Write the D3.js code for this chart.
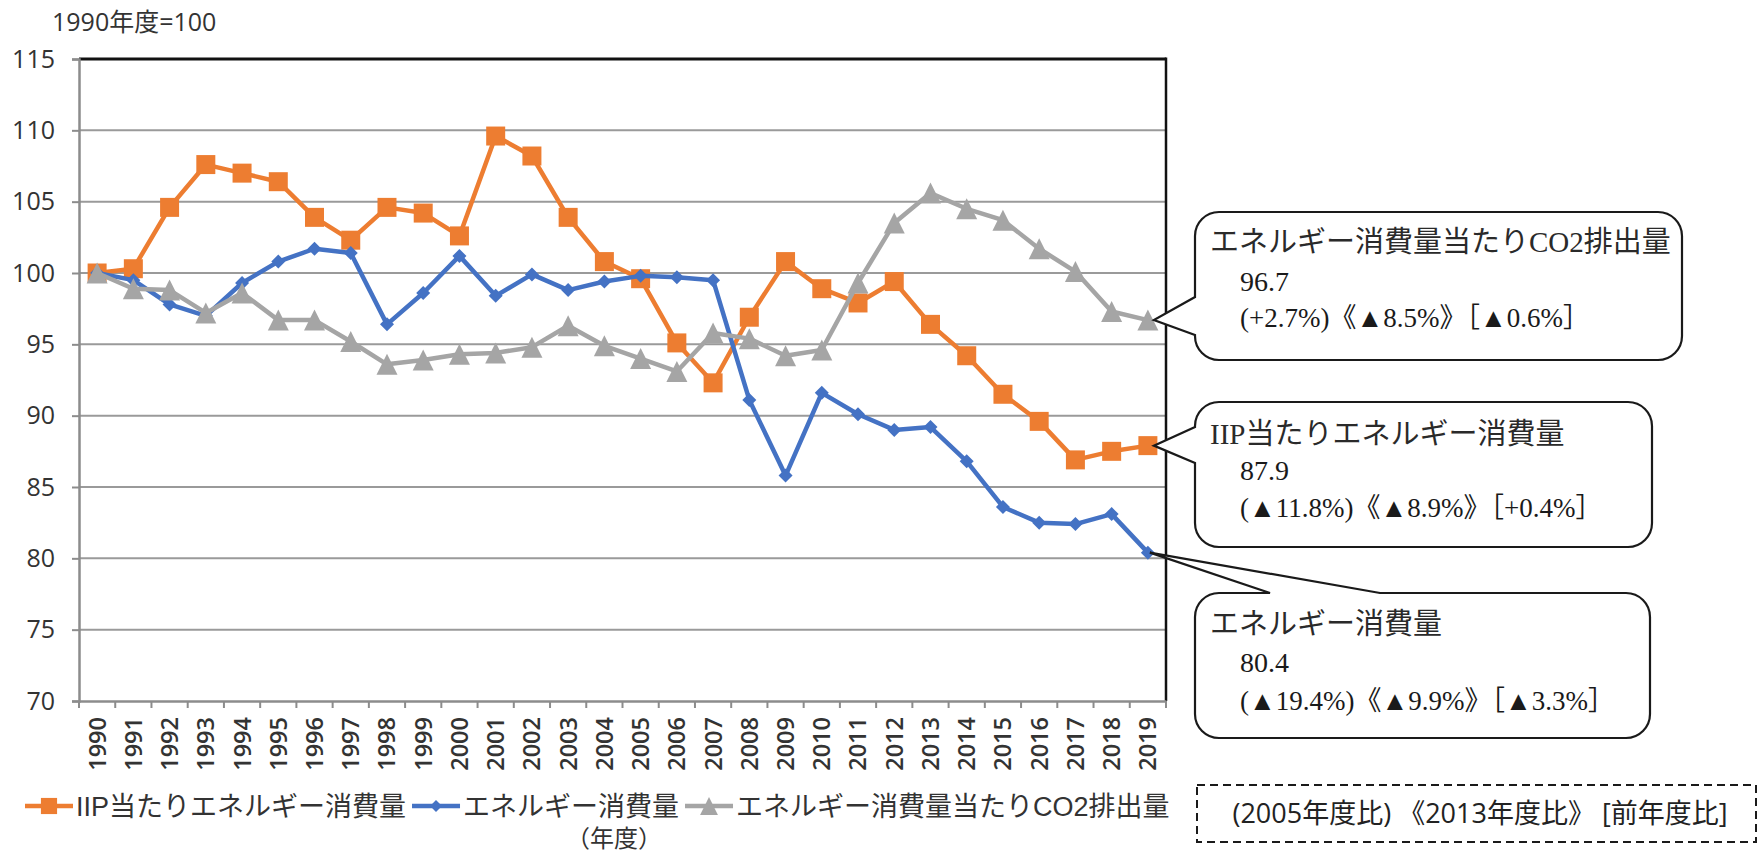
<!DOCTYPE html>
<html>
<head>
<meta charset="utf-8">
<script src="https://cdn.jsdelivr.net/npm/d3@7"></script>
<style>
  html, body { margin: 0; padding: 0; background: #fff; }
  svg { display: block; }
</style>
</head>
<body>
<svg id="chart" width="1762" height="853"></svg>
<script>
// ---- data (1990年度 = 100) ----
const years = ["1990","1991","1992","1993","1994","1995","1996","1997","1998","1999",
               "2000","2001","2002","2003","2004","2005","2006","2007","2008","2009",
               "2010","2011","2012","2013","2014","2015","2016","2017","2018","2019"];
const iipEnergy = [100.0,100.3,104.6,107.6,107.0,106.4,103.9,102.3,104.6,104.2,
                   102.6,109.6,108.2,103.9,100.8,99.6,95.1,92.3,96.9,100.8,
                   98.9,97.9,99.4,96.4,94.2,91.5,89.6,86.9,87.5,87.9];
const energy = [100.0,99.5,97.8,97.0,99.3,100.8,101.7,101.4,96.4,98.6,
                101.2,98.4,99.9,98.8,99.4,99.8,99.7,99.5,91.1,85.8,
                91.6,90.1,89.0,89.2,86.8,83.6,82.5,82.4,83.1,80.4];
const co2PerEnergy = [100.0,98.9,98.8,97.2,98.6,96.7,96.7,95.2,93.6,93.9,
                      94.3,94.4,94.8,96.3,94.9,94.0,93.1,95.8,95.4,94.2,
                      94.6,99.3,103.5,105.6,104.5,103.7,101.7,100.1,97.3,96.7];
const yTicks = [70,75,80,85,90,95,100,105,110,115];
const seriesNames = ["IIP当たりエネルギー消費量", "エネルギー消費量", "エネルギー消費量当たりCO2排出量"];
const yAxisTitle = "1990年度=100";
const xAxisTitle = "（年度）";
const noteText = "(2005年度比) 《2013年度比》 [前年度比]";
// callout texts: title, latest value, (vs 2005)《vs 2013》[vs previous year]
const calloutTitles = ["エネルギー消費量当たりCO2排出量", "IIP当たりエネルギー消費量", "エネルギー消費量"];
const calloutValues = [96.7, 87.9, 80.4];
const calloutChanges = ["(+2.7%)《▲8.5%》［▲0.6%］", "(▲11.8%)《▲8.9%》［+0.4%］", "(▲19.4%)《▲9.9%》［▲3.3%］"];

// ---- layout ----
const plot = { left: 79, right: 1166, top: 59, bottom: 701 };
const sans = "'Open Sans','Noto Sans CJK JP',sans-serif";
const compact = "'Liberation Sans','Noto Sans CJK JP',sans-serif";
const serif = "'Liberation Serif','Noto Sans CJK JP',serif";
const colors = ["#ED7D31", "#4472C4", "#A5A5A5"];

const svg = d3.select("#chart");

const x = d3.scaleBand().domain(years).range([plot.left, plot.right]).padding(0);
const y = d3.scaleLinear().domain([70, 115]).range([plot.bottom, plot.top]);
const cx = d => x(d) + x.bandwidth() / 2;

// gridlines
svg.append("g")
  .selectAll("line")
  .data(yTicks.filter(t => t !== 70))
  .join("line")
  .attr("x1", plot.left).attr("x2", plot.right)
  .attr("y1", d => y(d)).attr("y2", d => y(d))
  .attr("stroke", d => d === 115 ? "#111" : "#9a9a9a")
  .attr("stroke-width", d => d === 115 ? 3 : 2);

// right border
svg.append("line")
  .attr("x1", plot.right).attr("x2", plot.right)
  .attr("y1", plot.top - 1.5).attr("y2", plot.bottom)
  .attr("stroke", "#111").attr("stroke-width", 2.5);

// y axis
const yAxis = d3.axisLeft(y).tickValues(yTicks).tickSize(7).tickPadding(17);
const gy = svg.append("g").attr("transform", `translate(${plot.left},0)`).call(yAxis);
gy.select(".domain").attr("stroke", "#8c8c8c").attr("stroke-width", 2.5);
gy.selectAll(".tick line").attr("stroke", "#8c8c8c").attr("stroke-width", 2);
gy.selectAll(".tick text")
  .attr("font-family", sans).attr("font-size", 25).attr("fill", "#333");

// x axis (ticks between categories)
const xAxis = d3.axisBottom(x).tickSize(0).tickPadding(0);
const gx = svg.append("g").attr("transform", `translate(0,${plot.bottom})`).call(xAxis);
gx.select(".domain").attr("stroke", "#8c8c8c").attr("stroke-width", 2.5);
gx.selectAll(".tick text")
  .attr("font-family", sans).attr("font-size", 23.5).attr("font-weight", 600).attr("fill", "#333")
  .attr("text-anchor", "end")
  .attr("transform", "rotate(-90)")
  .attr("x", -16).attr("y", 0).attr("dy", "0.36em");
gx.append("g")
  .selectAll("line")
  .data(years.concat(["__end"]))
  .join("line")
  .attr("x1", (d, i) => plot.left + i * x.bandwidth())
  .attr("x2", (d, i) => plot.left + i * x.bandwidth())
  .attr("y1", 0).attr("y2", 7)
  .attr("stroke", "#8c8c8c").attr("stroke-width", 2);

// axis titles
svg.append("text")
  .attr("x", 52).attr("y", 31)
  .attr("font-family", sans).attr("font-size", 25).attr("fill", "#333")
  .text(yAxisTitle);
svg.append("text")
  .attr("x", 614).attr("y", 847)
  .attr("text-anchor", "middle")
  .attr("font-family", compact).attr("font-size", 24).attr("fill", "#333")
  .text(xAxisTitle);

// marker shapes
const squareSym = { draw(ctx, s) { const h = s / 2; ctx.rect(-h, -h, s, s); } };
const diamondSym = { draw(ctx, s) { const h = s / 2; ctx.moveTo(0, -h); ctx.lineTo(h, 0); ctx.lineTo(0, h); ctx.lineTo(-h, 0); ctx.closePath(); } };
const triangleSym = { draw(ctx, s) { const h = s / 2; ctx.moveTo(0, -h); ctx.lineTo(h, h); ctx.lineTo(-h, h); ctx.closePath(); } };

const series = [
  { name: seriesNames[0], values: iipEnergy, color: colors[0], sym: squareSym, size: 19 },
  { name: seriesNames[1], values: energy, color: colors[1], sym: diamondSym, size: 14 },
  { name: seriesNames[2], values: co2PerEnergy, color: colors[2], sym: triangleSym, size: 21 }
];

const line = d3.line().x((d, i) => cx(years[i])).y(d => y(d));

series.forEach(s => {
  const g = svg.append("g");
  g.append("path")
    .attr("d", line(s.values))
    .attr("fill", "none")
    .attr("stroke", s.color)
    .attr("stroke-width", 4.5)
    .attr("stroke-linejoin", "round");
  g.selectAll("path.m")
    .data(s.values)
    .join("path")
    .attr("class", "m")
    .attr("transform", (d, i) => `translate(${cx(years[i])},${y(d)})`)
    .attr("d", d3.symbol().type(s.sym).size(s.size))
    .attr("fill", s.color);
});

// legend
let lx = 25;
const ly = 806;
series.forEach(s => {
  const g = svg.append("g");
  g.append("line")
    .attr("x1", lx).attr("x2", lx + 48).attr("y1", ly).attr("y2", ly)
    .attr("stroke", s.color).attr("stroke-width", 4.5);
  g.append("path")
    .attr("transform", `translate(${lx + 24},${ly})`)
    .attr("d", d3.symbol().type(s.sym).size(s.size * 0.85))
    .attr("fill", s.color);
  const t = g.append("text")
    .attr("x", lx + 51).attr("y", ly).attr("dy", "0.36em")
    .attr("font-family", compact).attr("font-size", 27).attr("fill", "#333")
    .text(s.name);
  lx = lx + 51 + t.node().getComputedTextLength() + 6;
});

// callouts
function calloutPath(b, r, w) {
  const p = d3.path();
  p.moveTo(b.x0 + r, b.y0);
  if (w.side === "top") {
    p.lineTo(w.a, b.y0); p.lineTo(w.tip[0], w.tip[1]); p.lineTo(w.c, b.y0);
  }
  p.lineTo(b.x1 - r, b.y0);
  p.arcTo(b.x1, b.y0, b.x1, b.y0 + r, r);
  p.lineTo(b.x1, b.y1 - r);
  p.arcTo(b.x1, b.y1, b.x1 - r, b.y1, r);
  p.lineTo(b.x0 + r, b.y1);
  p.arcTo(b.x0, b.y1, b.x0, b.y1 - r, r);
  if (w.side === "left") {
    p.lineTo(b.x0, w.c); p.lineTo(w.tip[0], w.tip[1]); p.lineTo(b.x0, w.a);
  }
  p.lineTo(b.x0, b.y0 + r);
  p.arcTo(b.x0, b.y0, b.x0 + r, b.y0, r);
  p.closePath();
  return p.toString();
}

const lastYear = years[years.length - 1];
const callouts = [
  { box: { x0: 1195, y0: 212, x1: 1682, y1: 360 },
    wedge: { side: "left", a: 297, c: 335, tip: [cx(lastYear) + 6, y(co2PerEnergy[co2PerEnergy.length - 1])] },
    base: [252, 291, 327] },
  { box: { x0: 1195, y0: 402, x1: 1652, y1: 547 },
    wedge: { side: "left", a: 427, c: 463, tip: [cx(lastYear) + 6, y(iipEnergy[iipEnergy.length - 1])] },
    base: [444, 480, 517] },
  { box: { x0: 1195, y0: 593, x1: 1650, y1: 738 },
    wedge: { side: "top", a: 1270, c: 1380, tip: [cx(lastYear) + 2, y(energy[energy.length - 1])] },
    base: [634, 672, 710] }
];

callouts.forEach((c, i) => {
  const g = svg.append("g");
  g.append("path")
    .attr("d", calloutPath(c.box, 24, c.wedge))
    .attr("fill", "#fff")
    .attr("stroke", "#1a1a1a")
    .attr("stroke-width", 2.2)
    .attr("stroke-linejoin", "miter");
  g.append("text")
    .attr("x", c.box.x0 + 15).attr("y", c.base[0])
    .attr("font-family", serif).attr("font-size", 29).attr("fill", "#2a2a2a")
    .text(calloutTitles[i]);
  g.append("text")
    .attr("x", c.box.x0 + 45).attr("y", c.base[1])
    .attr("font-family", serif).attr("font-size", 28).attr("fill", "#1a1a1a")
    .text(calloutValues[i].toFixed(1));
  g.append("text")
    .attr("x", c.box.x0 + 45).attr("y", c.base[2])
    .attr("font-family", serif).attr("font-size", 27).attr("fill", "#1a1a1a")
    .text(calloutChanges[i]);
});

// note box (comparison bases)
svg.append("rect")
  .attr("x", 1197).attr("y", 785).attr("width", 559).attr("height", 57)
  .attr("fill", "none").attr("stroke", "#1a1a1a").attr("stroke-width", 2)
  .attr("stroke-dasharray", "8,5");
svg.append("text")
  .attr("x", 1480).attr("y", 813).attr("dy", "0.36em")
  .attr("text-anchor", "middle")
  .attr("font-family", sans).attr("font-size", 27).attr("fill", "#222")
  .text(noteText);
</script>
</body>
</html>
